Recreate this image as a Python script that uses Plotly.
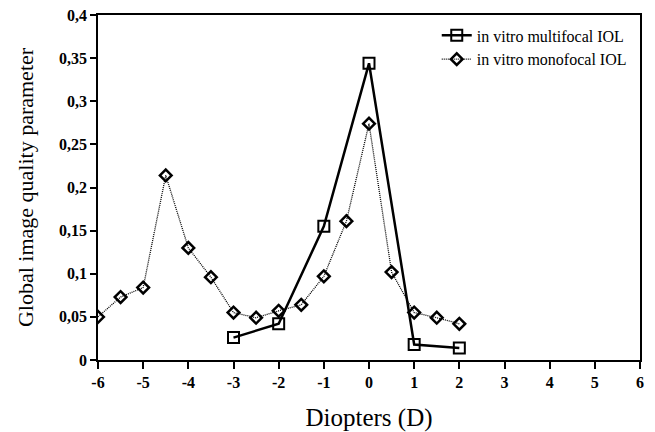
import plotly.graph_objects as go

multi_x = [-3, -2, -1, 0, 1, 2]
multi_y = [0.026, 0.042, 0.155, 0.344, 0.018, 0.014]

mono_x = [-6, -5.5, -5, -4.5, -4, -3.5, -3, -2.5, -2, -1.5, -1, -0.5, 0, 0.5, 1, 1.5, 2]
mono_y = [0.05, 0.073, 0.084, 0.214, 0.130, 0.096, 0.055, 0.049, 0.057, 0.064,
          0.097, 0.161, 0.274, 0.102, 0.055, 0.049, 0.042]

x_ticks = [-6, -5, -4, -3, -2, -1, 0, 1, 2, 3, 4, 5, 6]
x_labels = ["-6", "-5", "-4", "-3", "-2", "-1", "0", "1", "2", "3", "4", "5", "6"]
y_ticks = [0, 0.05, 0.1, 0.15, 0.2, 0.25, 0.3, 0.35, 0.4]
y_labels = ["0", "0,05", "0,1", "0,15", "0,2", "0,25", "0,3", "0,35", "0,4"]

serif = "Times New Roman"

fig = go.Figure()
fig.add_trace(go.Scatter(
    x=multi_x, y=multi_y, mode="lines+markers", name="in vitro multifocal IOL",
    line=dict(color="black", width=2.5),
    marker=dict(symbol="square-open", size=11, color="black", line=dict(width=2, color="black")),
))
fig.add_trace(go.Scatter(
    x=mono_x, y=mono_y, mode="lines+markers", name="in vitro monofocal IOL",
    line=dict(color="black", width=1.3, dash="1px,1px"),
    marker=dict(symbol="diamond-open", size=9, color="black", line=dict(width=2.5, color="black")),
))

fig.update_layout(
    width=655, height=432,
    margin=dict(l=98, r=15, t=15, b=72),
    paper_bgcolor="white", plot_bgcolor="white",
    font=dict(family=serif, color="black"),
    showlegend=True,
    legend=dict(x=0.625, y=0.99, xanchor="left", yanchor="top",
                bgcolor="rgba(0,0,0,0)", font=dict(family=serif, size=16, color="black"),
                tracegroupgap=0),
)
fig.update_xaxes(
    range=[-6, 6], tickvals=x_ticks, ticktext=["<b>%s</b>" % t for t in x_labels],
    automargin=False,
    showgrid=False, zeroline=False, showline=True, linecolor="black", linewidth=1.5,
    mirror=True, ticks="outside", ticklen=7, tickwidth=1.5, tickcolor="black",
    tickfont=dict(family=serif, size=16, color="black"),
    title=dict(text="Diopters (D)", font=dict(family=serif, size=25, color="black"), standoff=19),
)
fig.update_yaxes(
    range=[0, 0.4], tickvals=y_ticks, ticktext=["<b>%s</b>" % t for t in y_labels],
    automargin=False,
    showgrid=False, zeroline=False, showline=True, linecolor="black", linewidth=1.5,
    mirror=True, ticks="outside", ticklen=6, tickwidth=1.5, tickcolor="black",
    tickfont=dict(family=serif, size=16, color="black"),
    title=dict(text="Global image quality parameter", font=dict(family=serif, size=22, color="black"), standoff=19),
)

fig.write_html("out.html", config={"displayModeBar": False},
               post_script="document.body.style.margin='0px';")
